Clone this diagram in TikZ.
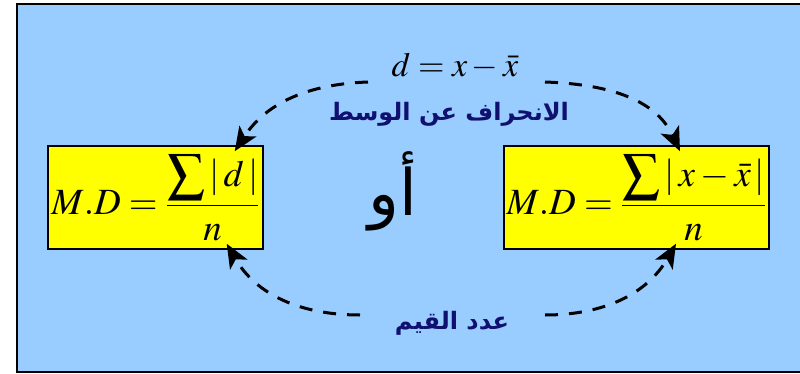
\documentclass[tikz,border=0pt]{standalone}
\usepackage{mathptmx}
\usepackage{fontspec}
\setmainfont{Liberation Serif}
\newfontfamily\arabicfont[Script=Arabic]{DejaVu Sans}
\TeXXeTstate=1
\usetikzlibrary{arrows.meta,calc,positioning}
\definecolor{skyback}{RGB}{153,204,255}
\definecolor{mdyellow}{RGB}{255,255,0}
\definecolor{arnavy}{RGB}{16,16,112}

\begin{document}
\begin{tikzpicture}[x=1pt,y=1pt,>=Stealth,
  mdbox/.style={draw=black,line width=1.5pt,fill=mdyellow,minimum height=103pt,inner sep=0pt},
  flow/.style={line width=3pt,dash pattern=on 13pt off 11pt,-{Stealth[length=24pt,width=20pt,inset=6pt]}},
  arlabel/.style={text=arnavy,font=\arabicfont\bfseries\fontsize{24}{28}\selectfont}]
\clip (0,0) rectangle (800,373);
% frame
\draw[line width=2.5pt,fill=skyback] (17.2,1.2) rectangle (810,369.2);
% the two formulas
\node[mdbox,minimum width=215pt] (lbox) at (155.5,175.5)
  {\fontsize{37}{40}\selectfont $\displaystyle M.D=\frac{\displaystyle\sum|\,d\,|}{n}$};
\node[mdbox,minimum width=265pt] (rbox) at (636.5,175.5)
  {\fontsize{37}{40}\selectfont $\displaystyle M.D=\frac{\displaystyle\sum|\,x-\bar{x}\,|}{n}$};
% labels
\node[font=\fontsize{34}{38}\selectfont,inner sep=1pt] (devf) at (455,307) {$d=x-\bar{x}$};
\node[arlabel] (devn) at (449,259) {\beginR الانحراف عن الوسط\endR};
\node[font=\arabicfont\fontsize{64}{72}\selectfont] (orw) at (393,182) {\beginR أو\endR};
\node[arlabel] (cnt) at (452,50) {\beginR عدد القيم\endR};
% dashed arrows
\coordinate (tl) at (368,291);
\coordinate (tr) at (545,291);
\coordinate (bl) at (360,58);
\coordinate (br) at (545,58);
\draw[flow] (tl) to[out=182,in=57] ([shift={(-29,-6)}]lbox.north east);
\draw[flow] (tr) to[out=-2,in=115] ([shift={(43.5,-6)}]rbox.north);
\draw[flow] (bl) to[out=180,in=-60] ([shift={(-37,6)}]lbox.south east);
\draw[flow] (br) to[out=0,in=-120] ([shift={(39.5,6)}]rbox.south);
\end{tikzpicture}
\end{document}
